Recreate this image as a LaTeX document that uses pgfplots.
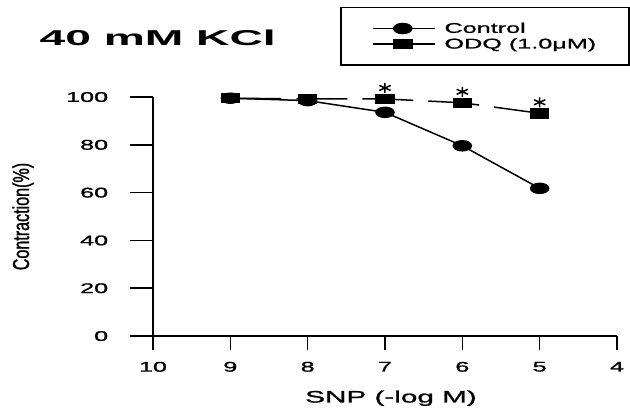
\documentclass[border=0pt]{standalone}
\usepackage{fontspec}
\usepackage{pgfplots}
\pgfplotsset{compat=1.18}
\setmainfont{Liberation Sans}
\newfontfamily\widefont[FakeStretch=1.8, FakeBold=1.2]{Liberation Sans}
\newfontfamily\titlefont[FakeStretch=2.15]{Liberation Sans}
\newfontfamily\narrowfont[FakeStretch=0.7, FakeBold=1]{Liberation Sans}

\begin{document}
\begin{tikzpicture}
\begin{axis}[
    scale only axis,
    width=464pt, height=239pt,
    x dir=reverse,
    xmin=4, xmax=10, ymin=0, ymax=100,
    xtick={4,5,...,10}, ytick={0,20,...,100},
    axis x line*=bottom, axis y line*=left,
    axis line style={line width=2pt},
    tick align=outside,
    tick style={line width=1.5pt, black},
    xtick style={/pgfplots/major tick length=14pt},
    ytick style={/pgfplots/major tick length=23pt},
    clip=false,
    /pgf/number format/assume math mode=true,
    ticklabel style={font=\widefont\fontsize{14}{14}\selectfont},
    yticklabel style={xshift=-37pt},
    xticklabel style={yshift=-18pt},
    xlabel={SNP (-log M)},
    xlabel style={at={(axis description cs:0.513,-0.26)}, anchor=center,
                  font=\widefont\fontsize{16.5}{17}\selectfont},
    ylabel={Contraction(\%)},
    ylabel style={at={(axis description cs:-0.28,0.5)}, anchor=center,
                  font=\narrowfont\fontsize{23}{24}\selectfont},
    title={40 mM KCl},
    title style={at={(axis description cs:-0.252,1.19)}, anchor=base west,
                 font=\titlefont\bfseries\fontsize{21.5}{22}\selectfont},
    legend image code/.code={
      \draw[mark repeat=2, mark phase=2, #1, solid]
        plot coordinates {(0pt,0pt) (30pt,0pt) (62pt,0pt)};},
    legend style={at={(axis description cs:1.028,1.377)}, anchor=north east,
                  draw=black, line width=1.5pt, inner xsep=31pt, inner ysep=13pt,
                  column sep=7pt,
                  font=\widefont\fontsize{14}{17}\selectfont},
    legend cell align=left,
]

% Control
\addplot[black, line width=1.5pt, mark=*, mark size=5pt,
         mark options={xscale=1.8, solid}]
coordinates {
  (9,99.5) (8,98.5) (7,93.6) (6,79.6) (5,61.8)
};
\addlegendentry{Control}

% ODQ (1.0 uM)
\addplot[black, line width=1.5pt, dash pattern=on 51pt off 15pt,
         mark=square*, mark size=4.5pt, mark options={xscale=2, solid}]
coordinates {
  (9,99.5) (8,99.2) (7,99.2) (6,97.6) (5,93.2)
};
\addlegendentry{ODQ (1.0μM)}

% significance stars
\addplot[forget plot, only marks, mark=asterisk, mark size=5pt,
         mark options={yshift=11pt, xscale=1.3, line width=1.5pt}]
coordinates {
  (7,99.2) (6,97.6) (5,93.2)
};

\coordinate (bbsw) at (axis description cs:-0.3297,-0.305);
\coordinate (bbne) at (axis description cs:1.028,1.406);
\end{axis}
\pgfresetboundingbox
\path[use as bounding box] (bbsw) rectangle (bbne);
\end{tikzpicture}
\end{document}
